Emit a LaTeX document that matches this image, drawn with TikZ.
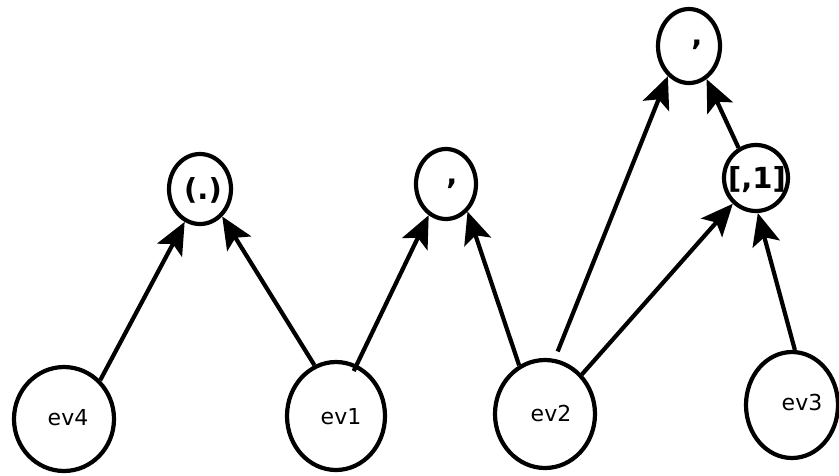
\documentclass[tikz,border=0pt]{standalone}
\usepackage{fontspec}
\setmainfont{DejaVu Sans}
\usetikzlibrary{shapes.geometric,arrows.meta}
\begin{document}
\begin{tikzpicture}[x=1pt,y=-1pt,
  ev/.style={draw,ellipse,line width=4.2pt,inner sep=0pt},
  evtext/.style={inner sep=0pt,font=\fontsize{22}{22}\selectfont},
  optext/.style={inner sep=0pt,font=\fontsize{29}{29}\selectfont\bfseries},
  conn/.style={line width=4.2pt,-{Stealth[length=32pt,width=28pt,inset=7pt]}}]
\useasboundingbox (0,0) rectangle (839,475);
% event nodes
\node[ev,minimum width=100pt,minimum height=104pt] (ev4) at (64,419) {};
\node[ev,minimum width=98pt,minimum height=108pt] (ev1) at (336,416) {};
\node[ev,minimum width=100pt,minimum height=108pt] (ev2) at (545,414) {};
\node[ev,minimum width=92pt,minimum height=106pt] (ev3) at (792,405) {};
% operator nodes
\node[ev,minimum width=62pt,minimum height=70pt] (p) at (200,189) {};
\node[ev,minimum width=60pt,minimum height=70pt] (c1) at (446,184) {};
\node[ev,minimum width=62pt,minimum height=74pt] (c2) at (689,46) {};
\node[ev,minimum width=64pt,minimum height=66pt] (b) at (756,178) {};
% labels
\node[evtext] (t4) at (68,418) {ev4};
\node[evtext] (t1) at (341,417) {ev1};
\node[evtext] (t2) at (551,413) {ev2};
\node[evtext] (t3) at (802,402) {ev3};
\node[optext] (tp) at (203,190) {(.)};
\node[optext] (tc1) at (452,184) {,};
\node[optext] (tc2) at (697,45) {,};
\node[optext] (tb) at (757,180) {[,1]};
% connectors
\draw[conn] (ev4.47) -- (p.245);
\draw[conn] (ev1.113) -- (p.309);
\draw[conn,shorten <=-7pt] (ev1.68) -- (c1.241);
\draw[conn] (ev2.118) -- (c1.308);
\draw[conn,shorten <=8pt] (ev2.80) -- (c2.235);
\draw[conn] (ev2.47) -- (b.228);
\draw[conn] (b.120) -- (c2.298);
\draw[conn] (ev3.87) -- (b.273);
\end{tikzpicture}
\end{document}
